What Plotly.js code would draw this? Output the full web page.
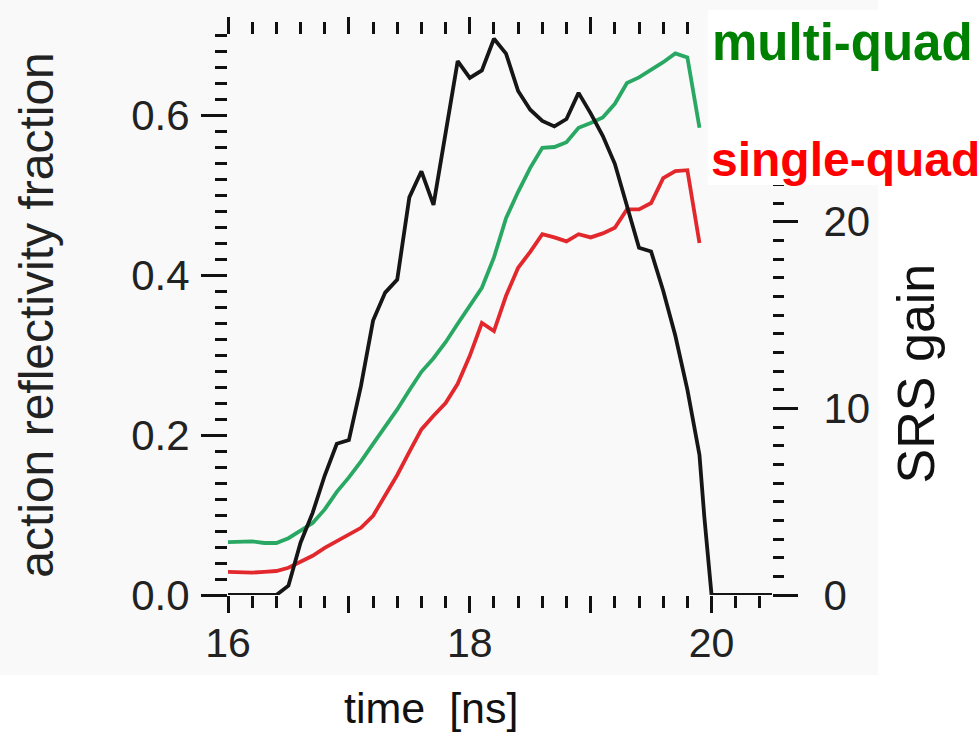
<!DOCTYPE html>
<html>
<head>
<meta charset="utf-8">
<script src="https://cdn.plot.ly/plotly-3.0.1.min.js"></script>
<style>html,body{margin:0;padding:0;background:#fff;}#chart{width:980px;height:737px;}</style>
</head>
<body>
<div id="chart"></div>
<script>
// ---- data ----
const timeQuad = [16.0,16.1,16.2,16.3,16.4,16.5,16.6,16.7,16.8,16.9,
                  17.0,17.1,17.2,17.3,17.4,17.5,17.6,17.7,17.8,17.9,
                  18.0,18.1,18.2,18.3,18.4,18.5,18.6,18.7,18.8,18.9,
                  19.0,19.1,19.2,19.3,19.4,19.5,19.6,19.7,19.8,19.9];
const multiQuad = [0.066,0.067,0.067,0.065,0.065,0.071,0.080,0.090,0.107,0.129,
                   0.147,0.167,0.189,0.210,0.232,0.256,0.279,0.296,0.316,0.339,
                   0.361,0.384,0.422,0.471,0.504,0.534,0.559,0.560,0.566,0.584,
                   0.590,0.597,0.614,0.640,0.647,0.656,0.666,0.677,0.672,0.584];
const singleQuad = [0.029,0.028,0.028,0.029,0.030,0.034,0.041,0.049,0.059,0.067,
                    0.075,0.084,0.099,0.124,0.150,0.179,0.207,0.224,0.240,0.264,
                    0.299,0.340,0.330,0.374,0.409,0.429,0.451,0.447,0.442,0.451,
                    0.447,0.452,0.459,0.482,0.482,0.490,0.521,0.530,0.531,0.440];
const timeGain = [16.0,16.1,16.2,16.3,16.4,16.5,16.6,16.7,16.8,16.9,
                  17.0,17.1,17.2,17.3,17.4,17.5,17.6,17.7,17.8,17.9,
                  18.0,18.1,18.2,18.3,18.4,18.5,18.6,18.7,18.8,18.9,
                  19.0,19.1,19.2,19.3,19.4,19.5,19.6,19.7,19.8,19.9,
                  19.94,20.0,20.1,20.2,20.3,20.4,20.5];
const srsGain = [0,0,0,0,0,0.5,2.8,4.4,6.4,8.1,
                 8.3,11.2,14.7,16.2,16.9,21.3,22.7,20.9,24.8,28.6,
                 27.7,28.1,29.8,29.0,27.0,26.0,25.4,25.1,25.5,26.9,
                 25.8,24.6,23.1,20.9,18.6,18.4,16.3,13.9,11.0,7.5,
                 4.2,0,0,0,0,0,0];
const seriesNames = ['multi-quad','single-quad','SRS gain'];
const gainTicks = [0, 10, 20];
const xTitle = 'time\u00a0\u00a0[ns]';
const yTitle = 'action reflectivity fraction';
const y2Title = 'SRS gain';

// ---- styling ----
const FONT = '"Liberation Sans", Arial, Helvetica, sans-serif';
const TC = '#111111';
const LBL = '#222222';

const traces = [
  {x: timeGain, y: srsGain, name: seriesNames[2], type: 'scatter', mode: 'lines',
   xaxis: 'x', yaxis: 'y2', line: {color: '#161616', width: 3.8}},
  {x: timeQuad, y: multiQuad, name: seriesNames[0], type: 'scatter', mode: 'lines',
   xaxis: 'x', yaxis: 'y', line: {color: '#28a862', width: 3.8}},
  {x: timeQuad, y: singleQuad, name: seriesNames[1], type: 'scatter', mode: 'lines',
   xaxis: 'x', yaxis: 'y', line: {color: '#e2282c', width: 3.8}}
];

const baseAx = {showgrid: false, zeroline: false, showline: false, ticks: 'outside',
  tickwidth: 3, tickcolor: TC, fixedrange: true};

const layout = {
  width: 980, height: 737,
  margin: {l: 228, r: 208, t: 35, b: 142, pad: 0},
  paper_bgcolor: '#ffffff', plot_bgcolor: 'rgba(0,0,0,0)',
  showlegend: false,
  font: {family: FONT, color: LBL},
  xaxis: Object.assign({}, baseAx, {
    range: [16, 20.5], tickmode: 'linear', tick0: 16, dtick: 1,
    labelalias: {'17': '', '19': ''},
    ticklen: 17, mirror: 'ticks',
    tickfont: {size: 41, color: LBL}, ticklabelstandoff: -5,
    minor: {tickmode: 'linear', tick0: 16, dtick: 0.2, ticklen: 12, tickwidth: 3,
            tickcolor: TC, ticks: 'outside', showgrid: false}
  }),
  xaxis2: Object.assign({}, baseAx, {
    overlaying: 'x', anchor: 'y', side: 'bottom',
    range: [16, 20.5], tickmode: 'linear', tick0: 16, dtick: 2,
    ticklen: 25, mirror: 'ticks', showticklabels: false
  }),
  yaxis: Object.assign({}, baseAx, {
    range: [0, 0.7], tickmode: 'linear', tick0: 0, dtick: 0.2, tickformat: '.1f',
    ticklen: 26, tickfont: {size: 42, color: LBL}, ticklabelstandoff: 3,
    title: {text: yTitle, font: {size: 48, color: '#222'}, standoff: 62},
    minor: {tickmode: 'linear', tick0: 0, dtick: 0.02, ticklen: 12, tickwidth: 3,
            tickcolor: TC, ticks: 'outside', showgrid: false}
  }),
  yaxis3: Object.assign({}, baseAx, {
    overlaying: 'y', anchor: 'x', side: 'left',
    range: [0, 0.7], tickmode: 'linear', tick0: 0.1, dtick: 0.2,
    ticklen: 18, showticklabels: false
  }),
  yaxis2: Object.assign({}, baseAx, {
    overlaying: 'y', anchor: 'x', side: 'right',
    range: [0, 30], tickmode: 'array', tickvals: gainTicks,
    ticklen: 25, tickfont: {size: 42, color: LBL}, ticklabelstandoff: 17,
    minor: {tickmode: 'linear', tick0: 0, dtick: 1, ticklen: 11, tickwidth: 3,
            tickcolor: TC, ticks: 'outside', showgrid: false}
  }),
  yaxis4: Object.assign({}, baseAx, {
    overlaying: 'y', anchor: 'x', side: 'right',
    range: [0, 30], tickmode: 'linear', tick0: 5, dtick: 10,
    ticklen: 17, showticklabels: false
  }),
  shapes: [
    {type: 'rect', xref: 'paper', yref: 'paper', layer: 'below',
     x0: -0.42, x1: 1.195, y0: -0.143, y1: 1.07,
     fillcolor: '#f9f9f9', line: {width: 0}},
    {type: 'rect', xref: 'paper', yref: 'paper', layer: 'above',
     x0: 0.882, x1: 1.40, y0: 0.732, y1: 1.045,
     fillcolor: '#ffffff', line: {width: 0}}
  ],
  annotations: [
    {text: xTitle, xref: 'paper', yref: 'paper', x: 0.373, y: -0.202,
     xanchor: 'center', yanchor: 'middle', showarrow: false,
     font: {size: 43, color: '#111', family: FONT}},
    {text: y2Title, xref: 'paper', yref: 'paper', x: 1.265, y: 0.396,
     xanchor: 'center', yanchor: 'middle', showarrow: false, textangle: -90,
     font: {size: 52, color: '#111', family: FONT}},
    {text: '<b>' + seriesNames[0] + '</b>', xref: 'paper', yref: 'paper', x: 0.886, y: 0.986,
     xanchor: 'left', yanchor: 'middle', showarrow: false,
     font: {size: 51, color: '#008000', family: FONT}},
    {text: '<b>' + seriesNames[1] + '</b>', xref: 'paper', yref: 'paper', x: 0.884, y: 0.777,
     xanchor: 'left', yanchor: 'middle', showarrow: false,
     font: {size: 48, color: '#ff0000', family: FONT}}
  ]
};

Plotly.newPlot('chart', traces, layout, {displayModeBar: false, staticPlot: true});
</script>
</body>
</html>
